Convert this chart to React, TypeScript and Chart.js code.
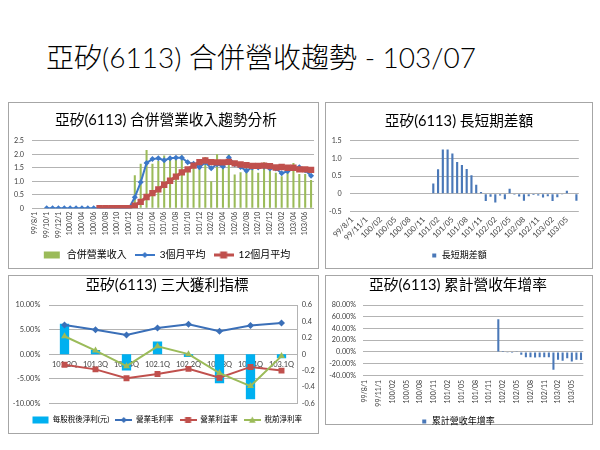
import React, { useEffect, useRef } from "react";
import { Chart, registerables } from "chart.js";
Chart.register(...registerables);

const FONT = "Lato, 'Noto Sans CJK TC', 'Noto Sans CJK JP', sans-serif";

// ---------- DATA ----------
const months = [
  "99/8/1", "99/9/1", "99/10/1", "99/11/1", "99/12/1",
  "100/01", "100/02", "100/03", "100/04", "100/05", "100/06", "100/07", "100/08", "100/09", "100/10", "100/11", "100/12",
  "101/01", "101/02", "101/03", "101/04", "101/05", "101/06", "101/07", "101/08", "101/09", "101/10", "101/11", "101/12",
  "102/01", "102/02", "102/03", "102/04", "102/05", "102/06", "102/07", "102/08", "102/09", "102/10", "102/11", "102/12",
  "103/01", "103/02", "103/03", "103/04", "103/05", "103/06", "103/07",
];

const revenue = [
  0, 0, 0, 0, 0, 0, 0, 0, 0, 0, 0, 0, 0, 0, 0, 0, 0,
  1.22, 1.65, 2.16, 1.65, 1.75, 1.95, 1.85, 1.80, 1.95, 1.35, 1.65, 1.55,
  1.90, 1.00, 2.00, 1.65, 2.00, 1.25, 1.33, 1.60, 1.60, 1.32, 1.70, 1.40,
  1.32, 1.19, 1.60, 1.68, 1.27, 1.27, 1.05,
];

const avg3 = [
  null, null, 0, 0, 0, 0, 0, 0, 0, 0, 0, 0, 0, 0, 0, 0, 0,
  0.41, 0.96, 1.68, 1.82, 1.85, 1.78, 1.85, 1.87, 1.87, 1.70, 1.65, 1.52,
  1.70, 1.48, 1.63, 1.55, 1.88, 1.63, 1.53, 1.39, 1.51, 1.51, 1.54, 1.47,
  1.47, 1.30, 1.37, 1.49, 1.52, 1.41, 1.20,
];

const avg12 = [
  null, null, null, null, null, null, null, null, null, null, null, 0, 0, 0, 0, 0, 0,
  0.10, 0.24, 0.42, 0.56, 0.70, 0.87, 1.02, 1.17, 1.33, 1.44, 1.58, 1.71,
  1.77, 1.71, 1.70, 1.70, 1.72, 1.66, 1.62, 1.60, 1.57, 1.57, 1.58, 1.56,
  1.51, 1.53, 1.50, 1.50, 1.44, 1.44, 1.42,
];

const spread = [
  null, null, null, null, null, null, null, null, null, null, null, null, null, null, null, null, null,
  0.29, 0.69, 1.25, 1.25, 1.14, 0.90, 0.81, 0.70, 0.52, 0.25, 0.05, -0.21,
  -0.09, -0.25, -0.05, -0.16, 0.14, -0.03, -0.08, -0.20, -0.07, -0.04, -0.05, -0.11,
  -0.07, -0.21, -0.10, -0.01, 0.08, -0.02, -0.20,
];

const yoy = [
  null, null, null, null, null, null, null, null, null, null, null, null, null, null, null, null, null,
  null, null, null, null, null, null, null, null, null, null, null, null,
  55.7, 1.5, -1.5, -2, 1, -5, -9, -9, -9.5, -9, -9, -9,
  -30.5, -13.5, -15, -11, -16.5, -13.5, -14,
];

const quarters = ["101.2Q", "101.3Q", "101.4Q", "102.1Q", "102.2Q", "102.3Q", "102.4Q", "103.1Q"];
const eps = [0.37, 0.05, -0.2, 0.155, -0.035, -0.355, -0.55, -0.05];
const grossMargin = [5.95, 4.98, 3.88, 5.32, 6.08, 4.65, 5.85, 6.35];
const opMargin = [-2.16, -3.1, -4.9, -4.05, -3.0, -4.8, -2.6, -3.35];
const pretaxMargin = [3.65, 0.72, -2.45, 1.6, 0.0, -3.85, -6.5, -0.4];

// ---------- STYLE ----------
const GREEN = "#9bbb59";
const BLUE = "#3c78c8";
const RED = "#c0504d";
const BAR_BLUE = "#4a78b8";
const CYAN = "#00b0f0";
const GRID = "#b3b3b3";
const TICK = "#404040";
const TITLE_SIZE = 14.7;

function icon(kind: string, color: string, w: number, h: number, a = 0, b = 0, lw = 2) {
  const c = document.createElement("canvas");
  c.width = w;
  c.height = h;
  const ctx = c.getContext("2d") as CanvasRenderingContext2D;
  ctx.fillStyle = color;
  ctx.strokeStyle = color;
  const cx = w / 2;
  const cy = h / 2;
  if (kind === "box") {
    ctx.fillRect(cx - a / 2, cy - b / 2, a, b);
    return c;
  }
  ctx.lineWidth = lw;
  ctx.beginPath();
  ctx.moveTo(0, cy);
  ctx.lineTo(w, cy);
  ctx.stroke();
  const r = a;
  ctx.beginPath();
  if (kind === "diamond") {
    ctx.moveTo(cx, cy - r);
    ctx.lineTo(cx + r, cy);
    ctx.lineTo(cx, cy + r);
    ctx.lineTo(cx - r, cy);
  } else if (kind === "square") {
    ctx.rect(cx - r, cy - r, 2 * r, 2 * r);
  } else {
    ctx.moveTo(cx, cy - r);
    ctx.lineTo(cx + r * 0.95, cy + r * 0.75);
    ctx.lineTo(cx - r * 0.95, cy + r * 0.75);
  }
  ctx.closePath();
  ctx.fill();
  return c;
}

function items(list: { text: string; img: HTMLCanvasElement; ds: number }[]) {
  return () =>
    list.map((it) => ({
      text: it.text,
      pointStyle: it.img,
      fillStyle: "transparent",
      strokeStyle: "transparent",
      lineWidth: 0,
      hidden: false,
      datasetIndex: it.ds,
      fontColor: "#000",
    }));
}

function titleOpt(text: string, top: number, bottom: number) {
  return {
    display: true,
    text,
    color: "#000",
    font: { family: FONT, size: TITLE_SIZE, weight: "normal" as const },
    padding: { top, bottom },
  };
}

function fixX(h: number) {
  return (s: any) => {
    s.height = h;
    s.paddingLeft = 0;
    s.paddingRight = 0;
  };
}
function fixY(w: number) {
  return (s: any) => {
    s.width = w;
    s.paddingTop = 0;
    s.paddingBottom = 0;
  };
}
// empty right-hand gutter so the title/legend span can extend past the plot
function gutter(w: number) {
  return {
    axis: "y",
    position: "right",
    display: true,
    ticks: { display: false },
    grid: { display: false, drawTicks: false },
    border: { display: false },
    afterFit: fixY(w),
  };
}

function cfg1(): any {
  return {
    type: "bar",
    data: {
      labels: months,
      datasets: [
        { type: "bar", label: "合併營業收入", data: revenue, backgroundColor: GREEN, barPercentage: 0.35, categoryPercentage: 1, order: 3 },
        {
          type: "line", label: "3個月平均", data: avg3, borderColor: BLUE, backgroundColor: BLUE, borderWidth: 2,
          pointStyle: "rectRot", pointRadius: 3, pointBorderWidth: 0, pointBackgroundColor: BLUE, tension: 0, order: 2,
        },
        {
          type: "line", label: "12個月平均", data: avg12, borderColor: RED, backgroundColor: RED, borderWidth: 3,
          pointStyle: "rect", pointRadius: 4.5, pointBorderWidth: 0, pointBackgroundColor: RED, tension: 0, order: 1,
        },
      ],
    },
    options: {
      responsive: false,
      animation: false,
      events: [],
      layout: { padding: 0 },
      plugins: {
        tooltip: { enabled: false },
        title: titleOpt("亞矽(6113) 合併營業收入趨勢分析", 8.7, 11.4),
        legend: {
          position: "bottom",
          labels: {
            usePointStyle: true,
            pointStyleWidth: 20,
            padding: 8,
            color: "#000",
            font: { family: FONT, size: 10 },
            generateLabels: items([
              { text: "合併營業收入", img: icon("box", GREEN, 20, 10, 16, 7), ds: 0 },
              { text: "3個月平均", img: icon("diamond", BLUE, 20, 10, 3, 0, 2), ds: 1 },
              { text: "12個月平均", img: icon("square", RED, 20, 10, 3.5, 0, 3), ds: 2 },
            ]),
          },
        },
      },
      scales: {
        x: {
          grid: { display: false, drawTicks: false },
          border: { display: false },
          ticks: {
            autoSkip: false, minRotation: 90, maxRotation: 90, padding: 3.4, color: TICK,
            font: { family: FONT, size: 7 },
            callback: (_v: any, i: number) => (i % 2 === 0 ? months[i] : ""),
          },
          afterFit: fixX(33.7),
        },
        y: {
          min: 0, max: 2.5,
          ticks: { stepSize: 0.5, padding: 8, color: TICK, font: { family: FONT, size: 7.2 } },
          grid: { color: GRID, drawTicks: false },
          border: { display: false },
          afterFit: fixY(24),
        },
        yr: gutter(10),
      },
    },
  };
}

function cfg2(): any {
  return {
    type: "bar",
    data: {
      labels: months,
      datasets: [{ label: "長短期差額", data: spread, backgroundColor: BAR_BLUE, barPercentage: 0.45, categoryPercentage: 1 }],
    },
    options: {
      responsive: false,
      animation: false,
      events: [],
      layout: { padding: 0 },
      plugins: {
        tooltip: { enabled: false },
        title: titleOpt("亞矽(6113) 長短期差額", 9.7, 10.4),
        legend: {
          position: "bottom",
          labels: {
            usePointStyle: true, pointStyleWidth: 6, padding: 10, color: "#000",
            font: { family: FONT, size: 9 },
            generateLabels: items([{ text: "長短期差額", img: icon("box", BAR_BLUE, 6, 6, 4, 4), ds: 0 }]),
          },
        },
      },
      scales: {
        x: {
          grid: { display: false, drawTicks: false },
          border: { display: false },
          ticks: {
            autoSkip: false, minRotation: 45, maxRotation: 45, padding: 3.7, color: TICK,
            font: { family: FONT, size: 7.8 },
            callback: (_v: any, i: number) => (i % 3 === 0 ? months[i] : ""),
          },
          afterFit: fixX(29.7),
        },
        y: {
          min: -0.5, max: 1.5,
          ticks: { stepSize: 0.5, padding: 8.1, color: TICK, font: { family: FONT, size: 7.2 } },
          grid: { color: GRID, drawTicks: false },
          border: { display: false },
          afterFit: fixY(23.8),
        },
        yr: gutter(13.2),
      },
    },
  };
}

function cfg3(): any {
  const BL = "#3a6fb8";
  return {
    type: "bar",
    data: {
      labels: quarters,
      datasets: [
        { type: "bar", label: "每股稅後淨利(元)", data: eps, yAxisID: "y1", backgroundColor: CYAN, barPercentage: 0.3, categoryPercentage: 1, order: 4 },
        {
          type: "line", label: "營業毛利率", data: grossMargin, yAxisID: "y", borderColor: BL, backgroundColor: BL, borderWidth: 2,
          pointStyle: "rectRot", pointRadius: 3.5, pointBorderWidth: 0, pointBackgroundColor: BL, tension: 0, order: 3,
        },
        {
          type: "line", label: "營業利益率", data: opMargin, yAxisID: "y", borderColor: RED, backgroundColor: RED, borderWidth: 2,
          pointStyle: "rect", pointRadius: 4.2, pointBorderWidth: 0, pointBackgroundColor: RED, tension: 0, order: 2,
        },
        {
          type: "line", label: "稅前淨利率", data: pretaxMargin, yAxisID: "y", borderColor: GREEN, backgroundColor: GREEN, borderWidth: 2,
          pointStyle: "triangle", pointRadius: 4, pointBorderWidth: 0, pointBackgroundColor: GREEN, tension: 0, order: 1,
        },
      ],
    },
    options: {
      responsive: false,
      animation: false,
      events: [],
      layout: { padding: { left: 0, right: 0, top: 0, bottom: 0.25 } },
      plugins: {
        tooltip: { enabled: false },
        title: titleOpt("亞矽(6113) 三大獲利指標", 0.7, 10.7),
        legend: {
          position: "bottom",
          title: { display: true, text: "", font: { size: 5 }, padding: 0.5 },
          labels: {
            usePointStyle: true, pointStyleWidth: 17, padding: 6, color: "#000",
            font: { family: FONT, size: 7.5 },
            generateLabels: items([
              { text: "每股稅後淨利(元)", img: icon("box", CYAN, 17, 8, 16, 7), ds: 0 },
              { text: "營業毛利率", img: icon("diamond", BL, 17, 8, 3, 0, 2), ds: 1 },
              { text: "營業利益率", img: icon("square", RED, 17, 8, 3, 0, 2), ds: 2 },
              { text: "稅前淨利率", img: icon("triangle", GREEN, 17, 8, 3.5, 0, 2), ds: 3 },
            ]),
          },
        },
      },
      scales: {
        x: {
          position: { y: 0 },
          grid: { display: false, drawTicks: false },
          border: { display: false },
          ticks: { padding: 5.5, minRotation: 0, maxRotation: 0, autoSkip: false, color: TICK, font: { family: FONT, size: 7.5 } },
        },
        y: {
          position: "left",
          min: -10, max: 10,
          ticks: {
            stepSize: 5, padding: 8.7, color: TICK, font: { family: FONT, size: 7.4 },
            callback: (v: any) => Number(v).toFixed(2) + "%",
          },
          grid: { color: GRID, drawTicks: false },
          border: { display: false },
          afterFit: fixY(40),
        },
        y1: {
          axis: "y",
          position: "right",
          min: -0.6, max: 0.6,
          ticks: {
            stepSize: 0.2, padding: 4.7, color: TICK, font: { family: FONT, size: 7.4 },
            callback: (v: any) => String(Math.round(Number(v) * 10) / 10),
          },
          grid: { display: false, drawTicks: false },
          border: { display: true, color: GRID },
          afterFit: fixY(28),
        },
      },
    },
  };
}

function cfg4(): any {
  return {
    type: "bar",
    data: {
      labels: months,
      datasets: [{ label: "累計營收年增率", data: yoy, backgroundColor: BAR_BLUE, barPercentage: 0.45, categoryPercentage: 1 }],
    },
    options: {
      responsive: false,
      animation: false,
      events: [],
      layout: { padding: 0 },
      plugins: {
        tooltip: { enabled: false },
        title: titleOpt("亞矽(6113) 累計營收年增率", 0.7, 10.7),
        legend: {
          position: "bottom",
          labels: {
            usePointStyle: true, pointStyleWidth: 6, padding: 10, color: "#000",
            font: { family: FONT, size: 9 },
            generateLabels: items([{ text: "累計營收年增率", img: icon("box", BAR_BLUE, 6, 6, 4, 4), ds: 0 }]),
          },
        },
      },
      scales: {
        x: {
          grid: { display: false, drawTicks: false },
          border: { display: false },
          ticks: {
            autoSkip: false, minRotation: 90, maxRotation: 90, padding: 4.7, color: TICK,
            font: { family: FONT, size: 7 },
            callback: (_v: any, i: number) => (i % 3 === 0 ? months[i] : ""),
          },
          afterFit: fixX(31.7),
        },
        y: {
          min: -40, max: 80,
          ticks: {
            stepSize: 20, padding: 6.8, color: TICK, font: { family: FONT, size: 7.2 },
            callback: (v: any) => Number(v).toFixed(2) + "%",
          },
          grid: { color: GRID, drawTicks: false },
          border: { display: false },
          afterFit: fixY(36.8),
        },
        yr: gutter(6.7),
      },
    },
  };
}

const panel = (left: number, top: number, width: number, height: number): React.CSSProperties => ({
  position: "absolute", left, top, width, height, boxSizing: "border-box", border: "1px solid #a6a6a6",
});
const cv = (left: number, top: number): React.CSSProperties => ({ position: "absolute", left, top });

export default function App() {
  const r1 = useRef<HTMLCanvasElement>(null);
  const r2 = useRef<HTMLCanvasElement>(null);
  const r3 = useRef<HTMLCanvasElement>(null);
  const r4 = useRef<HTMLCanvasElement>(null);

  useEffect(() => {
    const charts = [
      new Chart(r1.current as HTMLCanvasElement, cfg1()),
      new Chart(r2.current as HTMLCanvasElement, cfg2()),
      new Chart(r3.current as HTMLCanvasElement, cfg3()),
      new Chart(r4.current as HTMLCanvasElement, cfg4()),
    ];
    return () => charts.forEach((c) => c.destroy());
  }, []);

  return (
    <div style={{ position: "absolute", left: 0, top: 0, width: 600, height: 450, background: "#fff", overflow: "hidden" }}>
      <div
        style={{
          position: "absolute", left: 0, top: 40, width: 522, height: 34, lineHeight: "34px",
          fontSize: 28, fontWeight: 300, textAlign: "center", fontFamily: FONT, color: "#000", whiteSpace: "nowrap",
        }}
      >
        亞矽(6113) 合併營收趨勢 - 103/07
      </div>
      <div style={panel(8, 102, 311, 167)} />
      <div style={panel(325, 102, 268, 167)} />
      <div style={panel(8, 275, 311, 159)} />
      <div style={panel(325, 275, 268, 150)} />
      <canvas ref={r1} width={316} height={167} style={cv(8, 103)} />
      <canvas ref={r2} width={266} height={167} style={cv(326, 103)} />
      <canvas ref={r3} width={316} height={158} style={cv(9, 276)} />
      <canvas ref={r4} width={264} height={160} style={cv(326, 276)} />
    </div>
  );
}
